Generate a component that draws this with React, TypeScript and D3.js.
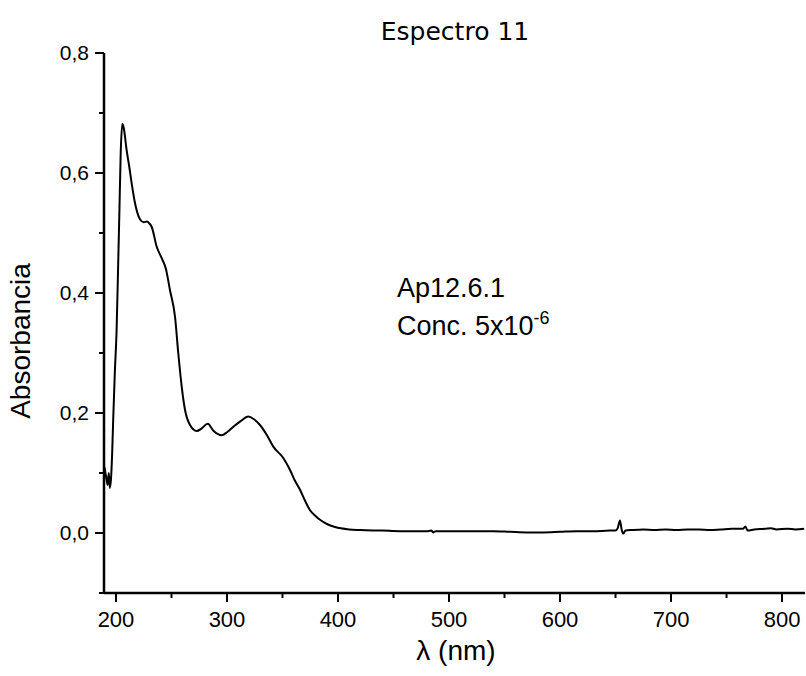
import React from "react";
import * as d3 from "d3";

const wavelengths: number[] = [
  189.5, 191, 192.5, 193.5, 194.5, 195.5, 196.5, 197.5, 199, 200.5, 202, 203, 204.2, 205.7, 207,
  209.6, 212, 214.1, 217.1, 221.6, 225, 227.7, 230, 232.2, 236.7, 241.2, 245, 248.6, 253.2, 256.1,
  259.2, 262.2, 266.7, 272.7, 277, 282.6, 288, 295.2, 300, 305.7, 312, 319.2, 324, 329.7, 336,
  341.7, 350.7, 356.8, 361, 365.8, 370, 374.8, 380, 383.8, 390, 397.3, 410, 419.8, 440, 456,
  460, 480, 484, 486, 488, 500, 520, 540, 555, 570, 585, 600, 615, 630, 645, 650, 652, 654,
  655.5, 657, 659, 665, 675, 685, 695, 705, 715, 725, 735, 745, 755, 765, 767, 769, 775, 785,
  790, 795, 805, 812, 820,
];
const absorbance: number[] = [
  0.11, 0.095, 0.08, 0.1, 0.075, 0.09, 0.13, 0.19, 0.27, 0.335, 0.45, 0.53, 0.63, 0.682, 0.675,
  0.638, 0.61, 0.583, 0.55, 0.523, 0.518, 0.519, 0.516, 0.51, 0.477, 0.458, 0.44, 0.405, 0.36, 0.3,
  0.244, 0.205, 0.18, 0.17, 0.174, 0.182, 0.17, 0.163, 0.168, 0.177, 0.186, 0.194, 0.19, 0.18, 0.163,
  0.144, 0.125, 0.105, 0.088, 0.072, 0.055, 0.038, 0.028, 0.022, 0.015, 0.01, 0.006, 0.005, 0.004, 0.003,
  0.003, 0.003, 0.004, 0.001, 0.003, 0.003, 0.003, 0.003, 0.002, 0.001, 0.001, 0.002, 0.003, 0.003, 0.004, 0.004, 0.008, 0.021,
  0.006, -0.001, 0.004, 0.005, 0.006, 0.005, 0.006, 0.005, 0.006, 0.006, 0.005, 0.006, 0.007, 0.007, 0.011, 0.004, 0.006, 0.007,
  0.008, 0.006, 0.007, 0.006, 0.007,
];

const xMajorTicks = [200, 300, 400, 500, 600, 700, 800];
const xMinorTicks = [250, 350, 450, 550, 650, 750];
const yMajorTicks = [0, 0.2, 0.4, 0.6, 0.8];
const yMajorLabels = ["0,0", "0,2", "0,4", "0,6", "0,8"];
const yMinorTicks = [-0.1, 0.1, 0.3, 0.5, 0.7];

const title = "Espectro 11";
const xTitle = "λ (nm)";
const yTitle = "Absorbancia";
const note1 = "Ap12.6.1";
const note2 = "Conc. 5x10";
const note2Sup = "-6";

export default function App() {
  const W = 806;
  const H = 676;
  const left = 104;
  const right = 805;
  const top = 53;
  const bottom = 593;

  const x = d3.scaleLinear().domain([189.2, 820.7]).range([left, right]);
  const y = d3.scaleLinear().domain([-0.1, 0.8]).range([bottom, top]);

  const pts: [number, number][] = wavelengths.map((w, i) => [w, absorbance[i]]);
  const line = d3
    .line<[number, number]>()
    .x((d) => x(d[0]))
    .y((d) => y(d[1]))
    .curve(d3.curveMonotoneX);

  const sans = "'Liberation Sans', Arial, sans-serif";

  return (
    <svg
      width={W}
      height={H}
      style={{ position: "absolute", left: 0, top: 0, background: "#fff" }}
    >
      <rect x={0} y={0} width={W} height={H} fill="#fff" />
      <text
        x={455}
        y={40}
        textAnchor="middle"
        fontFamily="'DejaVu Sans', sans-serif"
        fontSize={25}
        fill="#000"
      >
        {title}
      </text>

      {/* data line */}
      <path d={line(pts) || ""} fill="none" stroke="#000" strokeWidth={2} strokeLinejoin="round" />

      {/* axes */}
      <line x1={left} x2={left} y1={top} y2={bottom} stroke="#000" strokeWidth={2.5} />
      <line x1={left} x2={right} y1={bottom} y2={bottom} stroke="#000" strokeWidth={2.5} />

      {xMajorTicks.map((t) => (
        <g key={"xm" + t}>
          <line x1={x(t)} x2={x(t)} y1={bottom} y2={bottom + 9} stroke="#000" strokeWidth={2} />
          <text x={x(t)} y={627} textAnchor="middle" fontFamily={sans} fontSize={22} fill="#000">
            {t}
          </text>
        </g>
      ))}
      {xMinorTicks.map((t) => (
        <line key={"xn" + t} x1={x(t)} x2={x(t)} y1={bottom} y2={bottom + 5} stroke="#000" strokeWidth={2} />
      ))}

      {yMajorTicks.map((t, i) => (
        <g key={"ym" + t}>
          <line x1={left - 9} x2={left} y1={y(t)} y2={y(t)} stroke="#000" strokeWidth={2} />
          <text x={89} y={y(t) + 7} textAnchor="end" fontFamily={sans} fontSize={21} fill="#000">
            {yMajorLabels[i]}
          </text>
        </g>
      ))}
      {yMinorTicks.map((t) => (
        <line key={"yn" + t} x1={left - 5} x2={left} y1={y(t)} y2={y(t)} stroke="#000" strokeWidth={2} />
      ))}

      <text x={456} y={660} textAnchor="middle" fontFamily={sans} fontSize={28} fill="#000">
        {xTitle}
      </text>
      <text
        transform={`translate(30, 341) rotate(-90)`}
        textAnchor="middle"
        fontFamily={sans}
        fontSize={28}
        fill="#000"
      >
        {yTitle}
      </text>

      <text x={397} y={297} fontFamily={sans} fontSize={27} fill="#000">
        {note1}
      </text>
      <text x={397} y={335} fontFamily={sans} fontSize={27} fill="#000">
        {note2}
        <tspan dy={-11} fontSize={18}>
          {note2Sup}
        </tspan>
      </text>
    </svg>
  );
}
